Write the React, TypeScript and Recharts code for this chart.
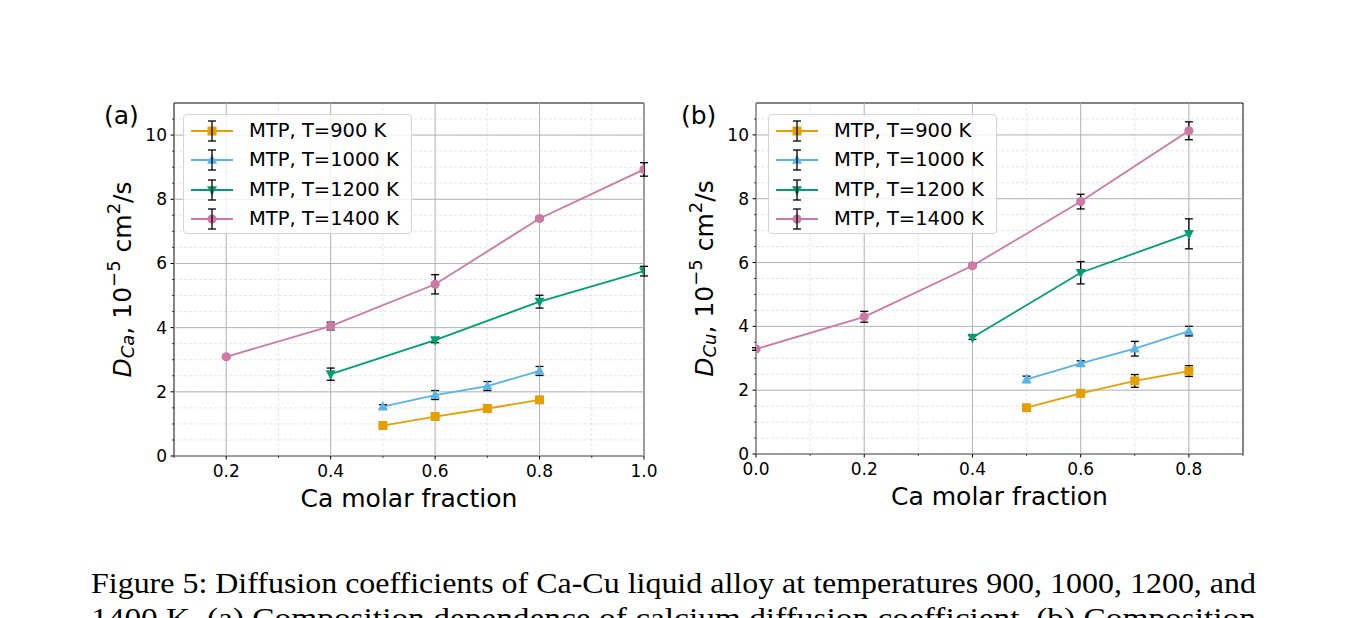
import { ComposedChart, Line, XAxis, YAxis, CartesianGrid, ReferenceLine, ReferenceArea, ErrorBar, Legend } from "recharts";

type Pt = { x: number; y: number; e: number };

const names = ["MTP, T=900 K", "MTP, T=1000 K", "MTP, T=1200 K", "MTP, T=1400 K"];
const colors = ["#E69F00", "#56B4E9", "#009E73", "#CC79A7"];
const markers = ["square", "triangleUp", "triangleDown", "circle"];

// (a) calcium diffusion coefficient
const caT900: Pt[] = [
  { x: 0.5, y: 0.95, e: 0.04 },
  { x: 0.6, y: 1.23, e: 0.04 },
  { x: 0.7, y: 1.48, e: 0.04 },
  { x: 0.8, y: 1.75, e: 0.04 },
];
const caT1000: Pt[] = [
  { x: 0.5, y: 1.54, e: 0.06 },
  { x: 0.6, y: 1.9, e: 0.14 },
  { x: 0.7, y: 2.18, e: 0.14 },
  { x: 0.8, y: 2.65, e: 0.14 },
];
const caT1200: Pt[] = [
  { x: 0.4, y: 2.55, e: 0.19 },
  { x: 0.6, y: 3.61, e: 0.08 },
  { x: 0.8, y: 4.81, e: 0.2 },
  { x: 1.0, y: 5.76, e: 0.15 },
];
const caT1400: Pt[] = [
  { x: 0.2, y: 3.09, e: 0.04 },
  { x: 0.4, y: 4.05, e: 0.12 },
  { x: 0.6, y: 5.35, e: 0.3 },
  { x: 0.8, y: 7.4, e: 0.05 },
  { x: 1.0, y: 8.93, e: 0.21 },
];

// (b) copper diffusion coefficient
const cuT900: Pt[] = [
  { x: 0.5, y: 1.45, e: 0.04 },
  { x: 0.6, y: 1.9, e: 0.05 },
  { x: 0.7, y: 2.29, e: 0.2 },
  { x: 0.8, y: 2.6, e: 0.17 },
];
const cuT1000: Pt[] = [
  { x: 0.5, y: 2.34, e: 0.1 },
  { x: 0.6, y: 2.84, e: 0.08 },
  { x: 0.7, y: 3.3, e: 0.23 },
  { x: 0.8, y: 3.85, e: 0.15 },
];
const cuT1200: Pt[] = [
  { x: 0.4, y: 3.65, e: 0.06 },
  { x: 0.6, y: 5.68, e: 0.35 },
  { x: 0.8, y: 6.9, e: 0.47 },
];
const cuT1400: Pt[] = [
  { x: 0.0, y: 3.29, e: 0.04 },
  { x: 0.2, y: 4.3, e: 0.17 },
  { x: 0.4, y: 5.9, e: 0.05 },
  { x: 0.6, y: 7.91, e: 0.23 },
  { x: 0.8, y: 10.13, e: 0.28 },
];

const xMajorA = [0.2, 0.4, 0.6, 0.8, 1.0];
const xMinorA = [0.1, 0.3, 0.5, 0.7, 0.9];
const xMajorB = [0.0, 0.2, 0.4, 0.6, 0.8];
const xMinorB = [0.1, 0.3, 0.5, 0.7, 0.9];
const yMajor = [0, 2, 4, 6, 8, 10];
const yMinor = [0.5, 1, 1.5, 2.5, 3, 3.5, 4.5, 5, 5.5, 6.5, 7, 7.5, 8.5, 9, 9.5, 10.5];

const captionLines = [
  "Figure 5: Diffusion coefficients of Ca-Cu liquid alloy at temperatures 900, 1000, 1200, and",
  "1400 K. (a) Composition dependence of calcium diffusion coefficient. (b) Composition",
];

const isIn = (list: number[], v: number) => list.some((m) => Math.abs(m - v) < 1e-6);

function Marker({ shape, cx, cy, color }: { shape: string; cx: number; cy: number; color: string }) {
  if (cx == null || cy == null) return <g />;
  if (shape === "square") return <rect x={cx - 4.5} y={cy - 4.5} width={9} height={9} fill={color} />;
  if (shape === "circle") return <circle cx={cx} cy={cy} r={4.6} fill={color} />;
  if (shape === "triangleUp")
    return <polygon points={`${cx},${cy - 5.6} ${cx - 5},${cy + 3.8} ${cx + 5},${cy + 3.8}`} fill={color} />;
  return <polygon points={`${cx},${cy + 5.6} ${cx - 5},${cy - 3.8} ${cx + 5},${cy - 3.8}`} fill={color} />;
}

function makeXTick(major: number[]) {
  return (props: any) => {
    const { x, y, payload } = props;
    const big = isIn(major, payload.value);
    return (
      <g>
        <line x1={x} x2={x} y1={y} y2={y + (big ? 3.5 : 2)} stroke="#000" strokeWidth={big ? 1 : 0.7} />
        {big && (
          <text x={x} y={y + 21} textAnchor="middle" fontSize={17} fill="#000">
            {Number(payload.value).toFixed(1)}
          </text>
        )}
      </g>
    );
  };
}

function yTick(props: any) {
  const { x, y, payload } = props;
  const big = isIn(yMajor, payload.value);
  return (
    <g>
      <line x1={x} x2={x - (big ? 3.5 : 2)} y1={y} y2={y} stroke="#000" strokeWidth={big ? 1 : 0.7} />
      {big && (
        <text x={x - 7} y={y} dy={6} textAnchor="end" fontSize={17} fill="#000">
          {payload.value}
        </text>
      )}
    </g>
  );
}

function LegendBox({ payload }: any) {
  const items = (payload ?? [])
    .filter((p: any) => names.includes(p.value))
    .sort((a: any, b: any) => names.indexOf(a.value) - names.indexOf(b.value));
  return (
    <div
      style={{
        width: 229,
        height: 120,
        boxSizing: "border-box",
        border: "1px solid #d4d4d4",
        borderRadius: 4,
        background: "rgba(255,255,255,0.8)",
        position: "relative",
        fontFamily: "DejaVu Sans",
        fontSize: 19.5,
        color: "#000",
      }}
    >
      {items.map((p: any, i: number) => {
        const idx = names.indexOf(p.value);
        const c = colors[idx];
        return (
          <div key={p.value} style={{ position: "absolute", left: 0, top: 16 + i * 29.3 - 15, height: 30, width: 229 }}>
            <svg width={60} height={30} style={{ position: "absolute", left: 0, top: 0, overflow: "visible" }}>
              <line x1={7} x2={49} y1={15} y2={15} stroke={c} strokeWidth={1.8} />
              <Marker shape={markers[idx]} cx={28} cy={15} color={c} />
              <line x1={28} x2={28} y1={5} y2={25} stroke="#000" strokeWidth={1.3} />
              <line x1={24} x2={32} y1={5} y2={5} stroke="#000" strokeWidth={1.3} />
              <line x1={24} x2={32} y1={25} y2={25} stroke="#000" strokeWidth={1.3} />
            </svg>
            <span style={{ position: "absolute", left: 65, top: 3, lineHeight: "24px", whiteSpace: "nowrap" }}>{p.value}</span>
          </div>
        );
      })}
    </div>
  );
}

function YLabel({ viewBox, sub }: any) {
  const cx = viewBox.x + 8;
  const cy = viewBox.y + viewBox.height / 2;
  return (
    <text
      x={cx}
      y={cy}
      transform={`rotate(-90, ${cx}, ${cy})`}
      textAnchor="middle"
      dominantBaseline="central"
      fontSize={25}
      fill="#000"
    >
      <tspan fontStyle="italic">D</tspan>
      <tspan fontStyle="italic" fontSize={18} dy={5}>
        {sub}
      </tspan>
      <tspan dy={-5}>, 10</tspan>
      <tspan fontSize={18} dy={-9}>
        −5
      </tspan>
      <tspan dy={9}> cm</tspan>
      <tspan fontSize={18} dy={-9}>
        2
      </tspan>
      <tspan dy={9}>/s</tspan>
    </text>
  );
}

function XLabel({ viewBox }: any) {
  return (
    <text x={viewBox.x + viewBox.width / 2} y={viewBox.y + 51} textAnchor="middle" fontSize={25} fill="#000">
      Ca molar fraction
    </text>
  );
}

type PanelProps = {
  sub: string;
  series: Pt[][];
  xDomain: [number, number];
  xMajor: number[];
  xMinor: number[];
  left: number;
  width: number;
  margin: { top: number; right: number; bottom: number; left: number };
  legendLeft: number;
};

function Panel({ sub, series, xDomain, xMajor, xMinor, left, width, margin, legendLeft }: PanelProps) {
  const xTicks = [...xMajor, ...xMinor].sort((a, b) => a - b);
  const yTicks = [...yMajor, ...yMinor].sort((a, b) => a - b);
  return (
    <div style={{ position: "absolute", left, top: 0 }}>
      <ComposedChart width={width} height={530} margin={margin}>
        <CartesianGrid stroke="#e0e0e0" strokeDasharray="3 2" strokeWidth={0.8} />
        {xMajor.map((v) => (
          <ReferenceLine key={`vx${v}`} x={v} stroke="#b5b5b5" strokeWidth={1} />
        ))}
        {yMajor.map((v) => (
          <ReferenceLine key={`hy${v}`} y={v} stroke="#b5b5b5" strokeWidth={1} />
        ))}
        <XAxis
          type="number"
          dataKey="x"
          domain={xDomain}
          ticks={xTicks}
          interval={0}
          allowDataOverflow
          axisLine={false}
          tickLine={false}
          tickSize={0}
          tickMargin={0}
          tick={makeXTick(xMajor)}
          height={40}
          label={{ content: (p: any) => <XLabel {...p} /> }}
        />
        <YAxis
          type="number"
          domain={[0, 11]}
          ticks={yTicks}
          interval={0}
          allowDataOverflow
          axisLine={false}
          tickLine={false}
          tickSize={0}
          tickMargin={0}
          tick={yTick}
          width={60}
          label={{ content: (p: any) => <YLabel {...p} sub={sub} /> }}
        />
        {series.map((data, i) => (
          <Line
            key={names[i]}
            name={names[i]}
            data={data}
            dataKey="y"
            stroke={colors[i]}
            strokeWidth={1.8}
            isAnimationActive={false}
            activeDot={false}
            dot={(p: any) => <Marker key={`${names[i]}-${p.index}`} shape={markers[i]} cx={p.cx} cy={p.cy} color={colors[i]} />}
          />
        ))}
        {series.map((data, i) => (
          <Line
            key={`err-${names[i]}`}
            name={`err-${names[i]}`}
            data={data}
            dataKey="y"
            stroke="none"
            legendType="none"
            dot={false}
            activeDot={false}
            isAnimationActive={false}
          >
            <ErrorBar dataKey="e" direction="y" width={4} stroke="#000" strokeWidth={1.3} />
          </Line>
        ))}
        <ReferenceArea x1={xDomain[0]} x2={xDomain[1]} y1={0} y2={11} fill="none" stroke="#111" strokeWidth={1} ifOverflow="visible" />
        <Legend
          layout="vertical"
          align="center"
          verticalAlign="middle"
          content={(p: any) => <LegendBox {...p} />}
          wrapperStyle={{ left: legendLeft, top: 114, width: 229, height: 120 }}
        />
      </ComposedChart>
    </div>
  );
}

export default function App() {
  return (
    <div
      style={{
        position: "absolute",
        left: 0,
        top: 0,
        width: 1347,
        height: 618,
        overflow: "hidden",
        background: "#fff",
        fontFamily: "DejaVu Sans",
      }}
    >
      <Panel
        sub="Ca"
        series={[caT900, caT1000, caT1200, caT1400]}
        xDomain={[0.1, 1.0]}
        xMajor={xMajorA}
        xMinor={xMinorA}
        left={0}
        width={670}
        margin={{ top: 103, right: 26, bottom: 34, left: 114 }}
        legendLeft={183}
      />
      <Panel
        sub="Cu"
        series={[cuT900, cuT1000, cuT1200, cuT1400]}
        xDomain={[0.0, 0.9]}
        xMajor={xMajorB}
        xMinor={xMinorB}
        left={660}
        width={610}
        margin={{ top: 103, right: 27, bottom: 36, left: 36 }}
        legendLeft={108}
      />
      <svg width={1347} height={618} style={{ position: "absolute", left: 0, top: 0, pointerEvents: "none" }}>
        <text x={104} y={124} fontSize={25} fill="#000" fontFamily="DejaVu Sans">
          (a)
        </text>
        <text x={681} y={124} fontSize={25} fill="#000" fontFamily="DejaVu Sans">
          (b)
        </text>
        {captionLines.map((line, i) => (
          <text
            key={i}
            x={91}
            y={593 + i * 35}
            fontSize={29}
            fill="#000"
            fontFamily="Liberation Serif"
            textLength={1165}
            lengthAdjust="spacingAndGlyphs"
          >
            {line}
          </text>
        ))}
      </svg>
    </div>
  );
}
